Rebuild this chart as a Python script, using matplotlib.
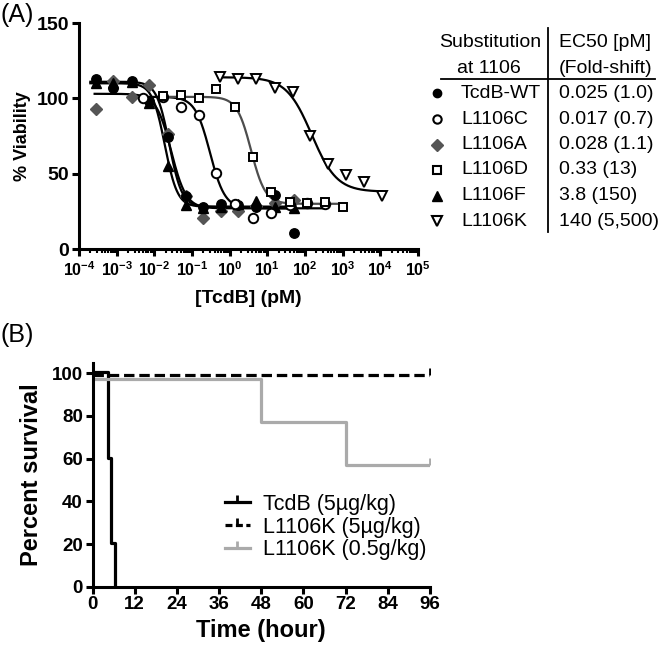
import numpy as np
import matplotlib
matplotlib.use("Agg")
import matplotlib.pyplot as plt
from matplotlib.lines import Line2D
from matplotlib.markers import TICKUP
from matplotlib.ticker import FixedLocator, FixedFormatter, LogLocator, NullFormatter

plt.rcParams["font.family"] = ["Liberation Sans", "DejaVu Sans"]
plt.rcParams["mathtext.fontset"] = "custom"
plt.rcParams["mathtext.rm"] = "Liberation Sans"
plt.rcParams["mathtext.bf"] = "Liberation Sans:bold"
plt.rcParams["lines.scale_dashes"] = False

# ---- panel A: viability vs toxin concentration (pM) ----
conc_wt = [0.00028, 0.00082, 0.0025, 0.0074, 0.023, 0.07, 0.2, 0.6, 1.7, 5, 16, 50]
via_wt = [113, 107, 111.5, 98, 74.4, 35.3, 28, 30, 29.3, 28, 36, 10.5]
via_a = [92.7, 111.5, 100.9, 108.7, 76, 35.3, 20.5, 25, 25.5, 28.7, 30.5, 32.7]
via_f = [110, 110, 111, 97, 55, 29, 27, 28, 30, 32, 28, 27]
conc_c = [0.0049, 0.0167, 0.051, 0.15, 0.44, 1.36, 4.1, 12.9, 40, 112, 340]
via_c = [100.5, 101, 94, 89, 50.5, 30, 20.5, 23.8, 29, 30.3, 30]
conc_d = [0.0167, 0.051, 0.158, 0.44, 1.36, 4.1, 12.9, 40, 112, 340, 1030]
via_d = [101.5, 102, 100, 106.5, 94.5, 61, 38, 31, 30.5, 31.5, 28]
conc_k = [0.54, 1.66, 5.1, 15.8, 47, 135, 420, 1230, 3740, 11000]
via_k = [114, 113, 113, 107, 104.5, 75, 56.5, 49, 44.5, 35]

# four-parameter fits: top, bottom, EC50, hill, x-range
fit_wt = (111, 28, 0.025, 2.6, 0.0002, 50)
fit_f = (110, 28, 0.019, 2.6, 0.0002, 50)
fit_a = (103, 27, 0.028, 2.2, 0.00026, 50)
fit_c = (101, 27, 0.30, 2.2, 0.005, 340)
fit_d = (101, 30, 3.7, 2.3, 0.0167, 1030)
fit_k = (114, 38, 150, 1.3, 0.5, 11000)

table_names = ["TcdB-WT", "L1106C", "L1106A", "L1106D", "L1106F", "L1106K"]
table_ec50 = ["0.025 (1.0)", "0.017 (0.7)", "0.028 (1.1)", "0.33 (13)", "3.8 (150)", "140 (5,500)"]

# ---- panel B: survival ----
t_wt = [0, 4.3, 5.4, 6.35]
s_wt = [100.6, 60.2, 20.3, 0]
t_k5 = [0, 96]
s_k5 = [99.3, 99.3]
t_k05 = [0, 48, 72, 96]
s_k05 = [97.3, 77.3, 57, 57]
surv_labels = ["TcdB (5µg/kg)", "L1106K (5µg/kg)", "L1106K (0.5g/kg)"]


def four_pl(x, top, bottom, ec50, hill):
    return bottom + (top - bottom) / (1 + (x / ec50) ** hill)


W, H = 661, 650
fig = plt.figure(figsize=(W / 100, H / 100), dpi=100)


def fx(px):
    return px / W


def fy(py):
    return 1 - py / H


# ---------------- panel A ----------------
axA = fig.add_axes([fx(79), fy(249), fx(418) - fx(79), fy(23) - fy(249)])
gray = "#555555"
series = [
    (conc_wt, via_a, fit_a, dict(marker="D", ms=6.5, mfc=gray, mec=gray), "black"),
    (conc_wt, via_f, fit_f, dict(marker="^", ms=6.5, mfc="black", mec="black"), "black"),
    (conc_wt, via_wt, fit_wt, dict(marker="o", ms=6.8, mfc="black", mec="black"), "black"),
    (conc_c, via_c, fit_c, dict(marker="o", ms=6.8, mfc="white", mec="black", mew=1.4), "black"),
    (conc_d, via_d, fit_d, dict(marker="s", ms=6, mfc="white", mec="black", mew=1.4), "#4d4d4d"),
    (conc_k, via_k, fit_k, dict(marker="v", ms=7.5, mfc="white", mec="black", mew=1.4), "black"),
]
for xs, ys, fit, mk, lc in series:
    top, bottom, ec50, hill, x0, x1 = fit
    xx = np.logspace(np.log10(x0), np.log10(x1), 300)
    axA.plot(xx, four_pl(xx, top, bottom, ec50, hill), color=lc, lw=1.6, zorder=2)
    axA.plot(xs, ys, ls="none", zorder=3, **mk)

axA.set_xscale("log")
axA.set_xlim(1e-4, 1e5)
axA.set_ylim(0, 150)
decades = list(range(-4, 6))
axA.xaxis.set_major_locator(FixedLocator([10.0 ** d for d in decades]))
axA.xaxis.set_major_formatter(FixedFormatter([r"$\mathbf{10^{%d}}$" % d for d in decades]))
axA.xaxis.set_minor_locator(LogLocator(base=10, subs=np.arange(2, 10), numticks=20))
axA.xaxis.set_minor_formatter(NullFormatter())
axA.set_yticks([0, 50, 100, 150])
for s in ["top", "right"]:
    axA.spines[s].set_visible(False)
for s in ["left", "bottom"]:
    axA.spines[s].set_linewidth(2.2)
axA.tick_params(axis="both", which="major", width=2.2, length=5, direction="out")
axA.tick_params(axis="x", which="minor", width=1.5, length=3)
axA.tick_params(axis="x", labelsize=11.5, pad=3)
axA.tick_params(axis="y", labelsize=14, pad=2)
for lab in axA.get_yticklabels():
    lab.set_fontweight("bold")
axA.set_xlabel("[TcdB] (pM)", fontsize=14, fontweight="bold", labelpad=8)
axA.set_ylabel("% Viability", fontsize=13, fontweight="bold", labelpad=4)

fig.text(fx(0), fy(15), "(A)", fontsize=18, ha="left", va="center")

# table of EC50 values
fig.text(fx(490), fy(42.7), "Substitution", fontsize=14, ha="center", va="center")
fig.text(fx(489), fy(68.3), "at 1106", fontsize=14, ha="center", va="center")
fig.text(fx(559), fy(42.7), "EC50 [pM]", fontsize=14, ha="left", va="center")
fig.text(fx(559), fy(68.3), "(Fold-shift)", fontsize=14, ha="left", va="center")
fig.add_artist(Line2D([fx(548), fx(548)], [fy(28), fy(232)], color="black", lw=1.3))
fig.add_artist(Line2D([fx(441), fx(655)], [fy(78.5), fy(78.5)], color="black", lw=1.3))
table_markers = [
    dict(marker="o", ms=6, mfc="black", mec="black"),
    dict(marker="o", ms=6, mfc="white", mec="black", mew=1.5),
    dict(marker="D", ms=6.5, mfc=gray, mec=gray),
    dict(marker="s", ms=6, mfc="white", mec="black", mew=1.5),
    dict(marker="^", ms=6.5, mfc="black", mec="black"),
    dict(marker="v", ms=6.5, mfc="white", mec="black", mew=1.5),
]
row_y = [93.3, 119, 144.5, 170, 195.5, 221.5]
for ry, name, ec, mk in zip(row_y, table_names, table_ec50, table_markers):
    fig.add_artist(Line2D([fx(437)], [fy(ry)], ls="none", **mk))
    fig.text(fx(461), fy(ry), name, fontsize=14, ha="left", va="center")
    fig.text(fx(559), fy(ry), ec, fontsize=14, ha="left", va="center")

# ---------------- panel B ----------------
px_per_unit = (586.7 - 373.3) / 100
axB = fig.add_axes([fx(92.5), fy(586.7), fx(430) - fx(92.5), 105 * px_per_unit / H])
lwB = 2.3
axB.step(t_wt, s_wt, where="post", color="black", lw=lwB, label=surv_labels[0])
axB.step(t_k5, s_k5, where="post", color="black", lw=lwB, dashes=(7.5, 3.5),
         label=surv_labels[1])
axB.step(t_k05, s_k05, where="post", color="#aaaaaa", lw=lwB, label=surv_labels[2])
axB.plot(t_k5[-1], s_k5[-1], marker=TICKUP, ms=5, mew=2, color="black")
axB.plot(t_k05[-1], s_k05[-1], marker=TICKUP, ms=5, mew=2, color="#aaaaaa")
axB.set_xlim(0, 96)
axB.set_ylim(0, 105)
axB.set_xticks(range(0, 97, 12))
axB.set_yticks(range(0, 101, 20))
for s in ["top", "right"]:
    axB.spines[s].set_visible(False)
for s in ["left", "bottom"]:
    axB.spines[s].set_linewidth(2.2)
axB.tick_params(axis="both", width=2.2, length=5, labelsize=13.5, pad=2)
for lab in axB.get_xticklabels() + axB.get_yticklabels():
    lab.set_fontweight("bold")
axB.set_xlabel("Time (hour)", fontsize=17, fontweight="bold", labelpad=4)
axB.set_ylabel("Percent survival", fontsize=17, fontweight="bold", labelpad=6)

handles = [
    Line2D([], [], color="black", lw=lwB, marker=TICKUP, ms=5, mew=2),
    Line2D([], [], color="black", lw=lwB, dashes=(5, 2.5), marker=TICKUP, ms=5, mew=2),
    Line2D([], [], color="#aaaaaa", lw=lwB, marker=TICKUP, ms=5, mew=2),
]
fig.legend(handles, surv_labels, loc="upper left",
           bbox_to_anchor=(fx(225), fy(494)), frameon=False, fontsize=15.5,
           handlelength=1.15, handletextpad=0.6, labelspacing=0.08,
           borderpad=0, borderaxespad=0, numpoints=1)

fig.text(fx(0), fy(335), "(B)", fontsize=18, ha="left", va="center")

fig.savefig("out.png", dpi=100)
